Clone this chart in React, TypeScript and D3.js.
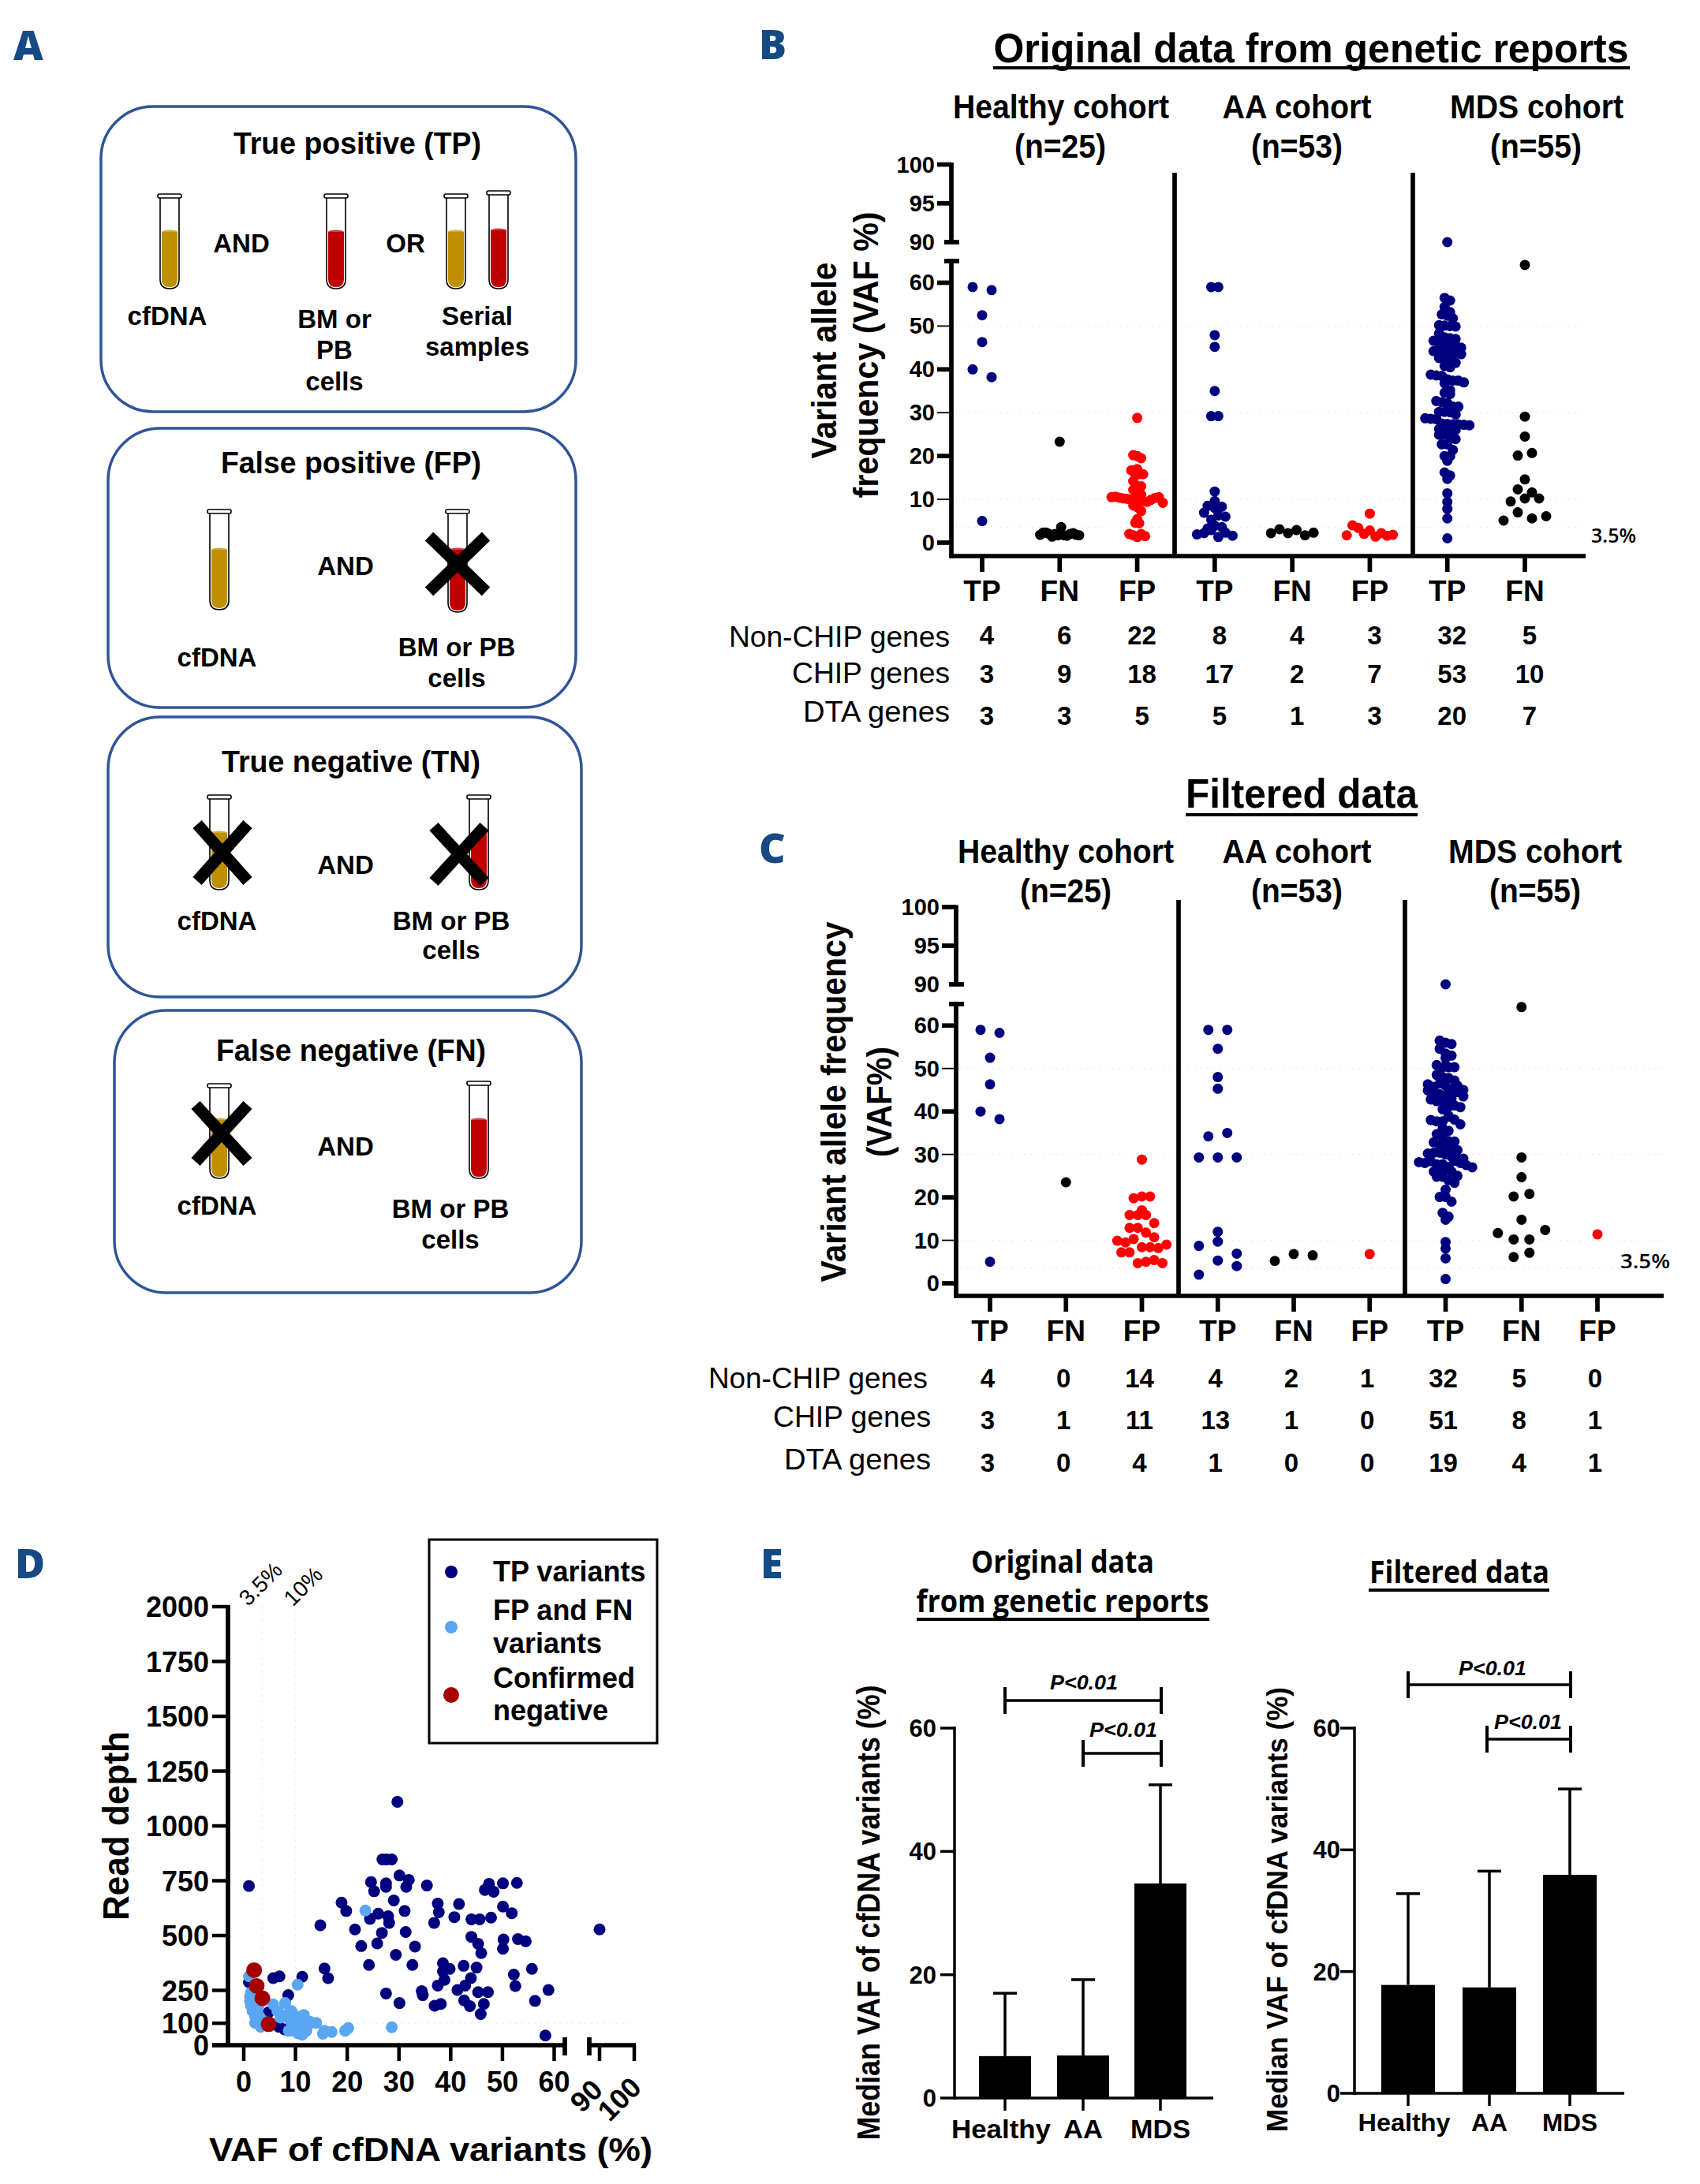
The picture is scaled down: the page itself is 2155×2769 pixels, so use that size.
import * as d3 from "d3";
import React from "react";

const W = 2155;
const H = 2769;
const SANS = '"Liberation Sans", Arial, sans-serif';
const OPEN = '"Open Sans", sans-serif';
const NAVY = "#00007f";
const RED = "#ff0000";
const LETTER = "#164a84";
const BOX = "#2f5597";

/* ---------- panel B values ---------- */
const bHealthyTP = [59, 58.3, 52.5, 46.3, 40, 38.2, 5];
const bHealthyFN = [23.3, 1.8, 2.3, 2.3, 2, 1.4, 2, 1.7, 3.6, 1.7, 1.6, 2, 2.2, 1.8, 1.7];
const bHealthyFP = [28.8, 20.2, 20, 19.5, 17, 16.7, 15.8, 15.8, 15.8, 14.2, 13, 13, 12.2, 11.7, 11.1, 10.5, 10.6, 10.4, 10.2, 10.1, 10, 10, 9.8, 9.6, 9.4, 9.9, 10.3, 10.5, 9.2, 8.6, 8.2, 7.3, 5.4, 4.6, 4.5, 2, 1.7, 1.3, 2, 1.5];
const bAaTP = [59, 59, 47.9, 45.2, 35, 29.2, 29.2, 11.8, 9.6, 8.5, 8, 8.3, 6.9, 5.3, 6.3, 6, 3.3, 3.9, 3.6, 1.9, 2.2, 2.9, 1.3, 2.3, 1.6];
const bAaFN = [2.2, 3.1, 2.2, 2.9, 1.7, 2.3];
const bAaFP = [6.7, 1.7, 4, 3.4, 2, 2.8, 1.4, 2.2, 1.6, 1.8];
const bMdsTP = [90, 56.5, 55.9, 54.4, 53.2, 52.7, 52.4, 51.8, 50.2, 50.1, 50, 49.9, 48.3, 47.4, 47.2, 47, 46.6, 46, 45.8, 45.7, 45.4, 45, 44.2, 44, 44, 43.9, 43.8, 43.5, 42.6, 42.4, 42.3, 41.5, 40.8, 40.5, 38.8, 38.6, 38.5, 37.7, 37.4, 37.4, 37, 36.8, 35.2, 34.6, 34.3, 32.7, 32.4, 32.2, 31.4, 31.4, 30.2, 30.2, 30.1, 29.6, 28.7, 28.6, 28.5, 27.5, 27.4, 27.3, 27.3, 27.2, 27.1, 26.2, 26.1, 26.1, 26, 24.9, 24.9, 24.8, 23.9, 22.7, 22.7, 21.4, 20, 20, 18.9, 16.2, 15.5, 14.7, 11.4, 9.4, 7.8, 5.6, 1];
const bMdsFN = [64.1, 29.1, 24.5, 20.1, 20.7, 14.6, 12.3, 11.6, 9.5, 10.2, 10.2, 5.1, 7, 5.6, 6.1];

/* ---------- panel C values ---------- */
const cHealthyFN = [23.5];
const cHealthyFP = [28.8, 19.8, 20.2, 20.2, 17, 15.9, 15.9, 15.9, 14, 12.9, 12.9, 11.8, 10.7, 9.9, 9.5, 10.3, 8.4, 8.4, 8.2, 9, 7.2, 7.2, 4.7, 5, 5.4, 4.7];
const cAaTP = [59, 59, 54.6, 48, 45.3, 34.2, 35, 29.3, 29.3, 29.3, 12, 8.7, 9.7, 6.9, 2, 5.3, 4];
const cAaFN = [5.2, 6.8, 6.5];
const cAaFP = [6.8];
const cMdsTP = [90, 56.5, 56, 55.7, 54.6, 53.5, 53, 52.4, 50.8, 50.3, 50.3, 50.3, 48.5, 48, 47.8, 47.2, 46.3, 45.7, 46.5, 46, 45.2, 44.9, 44.2, 44, 43.8, 43, 42.8, 42.4, 44.5, 43.5, 42.5, 41.1, 41.4, 41, 46, 45, 40.5, 39, 38, 37.7, 37.7, 38.8, 38.1, 37, 36, 35.5, 34.7, 34, 33.1, 32.8, 33, 32.2, 31.9, 31.2, 31, 30.2, 30.4, 30.4, 30, 29.5, 29, 29, 28.2, 28, 28.4, 27.7, 27.7, 27.1, 28.5, 28, 27.5, 27, 26, 26, 26.5, 26, 24.8, 24.8, 25, 24, 23.4, 21.8, 20.1, 20.1, 19, 16.4, 15.5, 14.8, 9.6, 8.1, 5.8, 1];
const cMdsFN = [64.3, 29.3, 24.7, 20.2, 20.8, 14.8, 11.7, 10.2, 10.2, 12.4, 6.1, 7.1];
const cMdsFP = [11.4];

const bCategories = ["TP", "FN", "FP", "TP", "FN", "FP", "TP", "FN"];
const cCategories = ["TP", "FN", "FP", "TP", "FN", "FP", "TP", "FN", "FP"];
const vafTicksMajor = [0, 20, 40, 60, 90, 95, 100];
const vafTicksMinor = [10, 30, 50];
const refLines = [3.5, 10, 30, 50];

const bNonChip = ["4", "6", "22", "8", "4", "3", "32", "5"];
const bChip = ["3", "9", "18", "17", "2", "7", "53", "10"];
const bDta = ["3", "3", "5", "5", "1", "3", "20", "7"];
const cNonChip = ["4", "0", "14", "4", "2", "1", "32", "5", "0"];
const cChip = ["3", "1", "11", "13", "1", "0", "51", "8", "1"];
const cDta = ["3", "0", "4", "1", "0", "0", "19", "4", "1"];

/* ---------- panel D values: [VAF %, read depth] ---------- */
const dTruePositive = [
  [29.7, 1110], [26.8, 847], [27.6, 847], [28.6, 847], [30.1, 774], [31.9, 754], [24.6, 744], [27.5, 738], [27.5, 722], [31.4, 722],
  [35.4, 728], [25.2, 702], [1, 726], [47.4, 736], [46.6, 708], [48.3, 700], [50.1, 738], [52.8, 740], [29, 660], [18.9, 650],
  [19.8, 612], [37.5, 646], [37.7, 606], [41.6, 644], [50.1, 632], [51.8, 602], [31.1, 612], [26, 600], [27.9, 588], [24.4, 576],
  [28.1, 558], [14.8, 547], [21.5, 528], [26.7, 512], [31.3, 516], [36.8, 558], [40.7, 584], [44, 574], [45.6, 574], [47.8, 582],
  [44, 494], [45.3, 462], [45.9, 420], [50.2, 482], [50.1, 440], [53, 484], [54.5, 474], [90, 528], [22.7, 452], [25.8, 464],
  [33.1, 450], [29.4, 412], [24.2, 366], [32.6, 366], [38.5, 374], [39.8, 348], [38.5, 336], [42.5, 362], [45, 354], [55.7, 348],
  [15.6, 350], [16.3, 306], [11.3, 312], [5.7, 306], [6.9, 314], [38.8, 298], [43.9, 306], [52.2, 322], [52.5, 270], [42.8, 272],
  [37.5, 272], [41.3, 252], [58.9, 252], [34.4, 246], [34.6, 228], [27.5, 236], [45.3, 242], [47.2, 242], [8.6, 228], [30.1, 192],
  [36.9, 180], [38.1, 188], [42.6, 204], [43.7, 178], [46.4, 188], [56.3, 202], [45.8, 142], [58.3, 44], [4.8, 150], [6.8, 84],
  [7.9, 72], [1, 288],
];
const dFalseCalls = [
  [23.5, 614], [28.6, 82], [10.4, 276], [1, 314], [20.2, 78], [19.6, 66], [17, 60], [15.6, 66], [15.3, 52],
  [1.4, 240], [1.2, 204], [1.4, 180], [1.7, 156], [2.2, 132], [2, 180], [2.5, 156], [3, 132], [2.2, 102], [3.3, 84], [1.2, 222],
  [1.4, 198], [2, 204], [2.8, 174], [3.6, 114], [5.7, 186], [8, 192], [6.5, 156], [7.1, 126], [9.2, 156], [9.7, 138],
  [11.6, 138], [8.1, 138], [8.9, 114], [10.3, 102], [14, 102], [12.9, 102], [11.9, 96], [11.1, 78], [8.7, 66], [9.7, 66],
  [10.5, 54], [11.3, 48], [12.1, 66], [10.8, 96], [12.7, 108], [9.5, 102],
];
const dConfirmedNegative = [[2, 342], [2.5, 270], [3.6, 214], [4.8, 96]];
const dDepthTicks = [0, 100, 250, 500, 750, 1000, 1250, 1500, 1750, 2000];
const dVafTicks = [0, 10, 20, 30, 40, 50, 60];

/* ---------- panel E values ---------- */
const eGroups = ["Healthy", "AA", "MDS"];
const eOriginalMedian = [6.8, 6.9, 34.8];
const eOriginalUpper = [17, 19.2, 50.8];
const eFilteredMedian = [17.8, 17.4, 35.9];
const eFilteredUpper = [32.8, 36.5, 50];
const eTicks = [0, 20, 40, 60];

/* ---------- helpers ---------- */
type TxtProps = {
  x: number; y: number; s: number; w?: number; b?: number; a?: string; f?: string; rot?: number; it?: boolean; fill?: string; children: React.ReactNode;
};
const Txt = ({ x, y, s, w, b = 700, a = "middle", f = SANS, rot, it, fill = "#000", children }: TxtProps) => (
  <text
    x={x}
    y={y}
    fontSize={s}
    fontWeight={b}
    fontFamily={f}
    fontStyle={it ? "italic" : "normal"}
    textAnchor={a as any}
    fill={fill}
    textLength={w}
    lengthAdjust={w ? "spacingAndGlyphs" : undefined}
    transform={rot !== undefined ? `rotate(${rot} ${x} ${y})` : undefined}
  >
    {children}
  </text>
);

const Line = ({ x1, y1, x2, y2, sw = 5.7, c = "#000", dash }: any) => (
  <line x1={x1} y1={y1} x2={x2} y2={y2} stroke={c} strokeWidth={sw} strokeDasharray={dash} />
);

// bins values and lays each bin out symmetrically, keeping the array order left to right
function swarm(values: number[], bin: number, step: number) {
  const out: { v: number; off: number }[] = [];
  d3.group(values, (v) => Math.round(v / bin)).forEach((g) => {
    g.forEach((v, i) => out.push({ v, off: (i - (g.length - 1) / 2) * step }));
  });
  return out;
}

const Tube = ({ cx, top, bottom, fillTop, color }: any) => {
  const hw = 12;
  const body = `M${cx - hw},${top + 4} L${cx - hw},${bottom - 12} Q${cx - hw},${bottom} ${cx},${bottom} Q${cx + hw},${bottom} ${cx + hw},${bottom - 12} L${cx + hw},${top + 4}`;
  const liq = `M${cx - 10},${fillTop} L${cx - 10},${bottom - 12} Q${cx - 10},${bottom - 2} ${cx},${bottom - 2} Q${cx + 10},${bottom - 2} ${cx + 10},${bottom - 12} L${cx + 10},${fillTop} Z`;
  return (
    <g>
      <path d={body} fill="#fff" stroke="#000" strokeWidth={1.6} />
      <path d={liq} fill={color} />
      <ellipse cx={cx} cy={fillTop} rx={10} ry={2.5} fill={color} opacity={0.75} />
      <rect x={cx - 15} y={top} width={30} height={5} rx={2} fill="#fff" stroke="#000" strokeWidth={1.6} />
    </g>
  );
};

const Cross = ({ cx, cy, hx, hy }: any) => (
  <g>
    <Line x1={cx - hx} y1={cy - hy} x2={cx + hx} y2={cy + hy} sw={15} />
    <Line x1={cx - hx} y1={cy + hy} x2={cx + hx} y2={cy - hy} sw={15} />
  </g>
);

const GOLD = "#bf9000";
const BLOOD = "#c00000";
const HEAD = 38;

const PanelA = () => (
  <g>
    <Txt x={17} y={76} s={52} b={800} a="start" f={OPEN} fill={LETTER}>A</Txt>
    <rect x={128} y={135} width={602} height={387} rx={66} fill="#fff" stroke={BOX} strokeWidth={3.5} />
    <rect x={137} y={543} width={593} height={354} rx={66} fill="#fff" stroke={BOX} strokeWidth={3.5} />
    <rect x={137} y={909} width={600} height={355} rx={66} fill="#fff" stroke={BOX} strokeWidth={3.5} />
    <rect x={145} y={1281} width={592} height={358} rx={66} fill="#fff" stroke={BOX} strokeWidth={3.5} />

    <Txt x={453} y={195} s={HEAD} w={314}>True positive (TP)</Txt>
    <Tube cx={215} top={246} bottom={366} fillTop={294} color={GOLD} />
    <Txt x={306} y={320} s={33}>AND</Txt>
    <Tube cx={426} top={246} bottom={366} fillTop={294} color={BLOOD} />
    <Txt x={514} y={320} s={33}>OR</Txt>
    <Tube cx={578} top={246} bottom={366} fillTop={294} color={GOLD} />
    <Tube cx={632} top={242} bottom={366} fillTop={292} color={BLOOD} />
    <Txt x={212} y={412} s={33}>cfDNA</Txt>
    <Txt x={424} y={416} s={33}>BM or</Txt>
    <Txt x={424} y={455} s={33}>PB</Txt>
    <Txt x={424} y={495} s={33}>cells</Txt>
    <Txt x={605} y={412} s={33}>Serial</Txt>
    <Txt x={605} y={451} s={33}>samples</Txt>

    <Txt x={445} y={600} s={HEAD} w={330}>False positive (FP)</Txt>
    <Tube cx={278} top={646} bottom={773} fillTop={697} color={GOLD} />
    <Txt x={438} y={729} s={33}>AND</Txt>
    <Tube cx={580} top={646} bottom={776} fillTop={697} color={BLOOD} />
    <Cross cx={580} cy={715} hx={36} hy={35} />
    <Txt x={275} y={845} s={33}>cfDNA</Txt>
    <Txt x={579} y={832} s={33}>BM or PB</Txt>
    <Txt x={579} y={871} s={33}>cells</Txt>

    <Txt x={445} y={979} s={HEAD} w={328}>True negative (TN)</Txt>
    <Tube cx={278} top={1008} bottom={1128} fillTop={1056} color={GOLD} />
    <Cross cx={282} cy={1081} hx={32} hy={36} />
    <Txt x={438} y={1108} s={33}>AND</Txt>
    <Tube cx={607} top={1008} bottom={1128} fillTop={1056} color={BLOOD} />
    <Cross cx={582} cy={1083} hx={32} hy={35} />
    <Txt x={275} y={1179} s={33}>cfDNA</Txt>
    <Txt x={572} y={1179} s={33}>BM or PB</Txt>
    <Txt x={572} y={1216} s={33}>cells</Txt>

    <Txt x={445} y={1345} s={HEAD} w={342}>False negative (FN)</Txt>
    <Tube cx={278} top={1374} bottom={1494} fillTop={1420} color={GOLD} />
    <Cross cx={281} cy={1437} hx={33} hy={36} />
    <Txt x={438} y={1465} s={33}>AND</Txt>
    <Tube cx={607} top={1371} bottom={1494} fillTop={1420} color={BLOOD} />
    <Txt x={275} y={1540} s={33}>cfDNA</Txt>
    <Txt x={571} y={1544} s={33}>BM or PB</Txt>
    <Txt x={571} y={1583} s={33}>cells</Txt>
  </g>
);

const SwarmPanel = ({ cats, layers, xRange, yRange, axisX, axisY, axisEnd, dividers, dividerTop, rows, rowY, rowLabels, tableDx, catY, r }: any) => {
  const x = d3.scalePoint<number>().domain(d3.range(cats.length)).range(xRange);
  const y = d3.scaleLinear().domain([0, 65, 90, 100]).range(yRange);
  return (
    <g>
      {refLines.map((v) => (
        <Line key={v} x1={axisX + 6} y1={y(v)} x2={axisEnd} y2={y(v)} sw={1.5} c="#eeeeee" dash="2 6" />
      ))}
      {dividers.map((d: number) => (
        <Line key={d} x1={d} y1={dividerTop} x2={d} y2={axisY} />
      ))}
      {vafTicksMajor.map((t) => (
        <g key={t}>
          <Line x1={t === 90 ? axisX - 9 : axisX - 18} y1={y(t)} x2={t === 90 ? axisX + 10 : axisX} y2={y(t)} />
          <Txt x={axisX - 21} y={y(t) + 10} s={29} a="end">{t}</Txt>
        </g>
      ))}
      {vafTicksMinor.map((t) => (
        <g key={t}>
          <Line x1={axisX - 18} y1={y(t)} x2={axisX} y2={y(t)} sw={1.8} />
          <Txt x={axisX - 21} y={y(t) + 10} s={29} a="end">{t}</Txt>
        </g>
      ))}
      <Line x1={axisX} y1={y(100) - 2.5} x2={axisX} y2={y(90)} />
      <Line x1={axisX} y1={y(65) - 2.5} x2={axisX} y2={axisY + 2.5} />
      <Line x1={axisX - 9} y1={y(65)} x2={axisX + 10} y2={y(65)} />
      <Line x1={axisX - 2.5} y1={axisY} x2={axisEnd} y2={axisY} />
      {cats.map((c: string, i: number) => (
        <g key={i}>
          <Line x1={x(i)} y1={axisY} x2={x(i)} y2={axisY + 20} />
          <Txt x={x(i)!} y={catY} s={37}>{c}</Txt>
        </g>
      ))}
      {layers.map((l: any, i: number) =>
        swarm(l.values, l.bin, l.step).map((d, j) => (
          <circle key={`${i}-${j}`} cx={x(l.col)! + d.off} cy={y(d.v)} r={r} fill={l.color} />
        ))
      )}
      {rows.map((row: string[], ri: number) => (
        <g key={ri}>
          {row.map((n, i) => (
            <Txt key={i} x={x(i)! + tableDx} y={rowY[ri]} s={33}>{n}</Txt>
          ))}
          <Txt x={rowLabels[ri].x} y={rowLabels[ri].y} s={37} b={400} a="end" w={rowLabels[ri].w}>{rowLabels[ri].t}</Txt>
        </g>
      ))}
    </g>
  );
};

const bLayers = [
  { col: 0, values: bHealthyTP, color: NAVY, bin: 4, step: 24 },
  { col: 1, values: bHealthyFN, color: "#000", bin: 10, step: 3.8 },
  { col: 2, values: bHealthyFP, color: RED, bin: 2, step: 5 },
  { col: 3, values: bAaTP, color: NAVY, bin: 2, step: 9 },
  { col: 4, values: bAaFN, color: "#000", bin: 10, step: 10.8 },
  { col: 5, values: bAaFP, color: RED, bin: 10, step: 7.3 },
  { col: 6, values: bMdsTP, color: NAVY, bin: 2, step: 7 },
  { col: 7, values: bMdsFN, color: "#000", bin: 3, step: 18 },
];
const cLayers = [
  { col: 0, values: bHealthyTP, color: NAVY, bin: 4, step: 24 },
  { col: 1, values: cHealthyFN, color: "#000", bin: 4, step: 10 },
  { col: 2, values: cHealthyFP, color: RED, bin: 3, step: 10.4 },
  { col: 3, values: cAaTP, color: NAVY, bin: 4, step: 24 },
  { col: 4, values: cAaFN, color: "#000", bin: 5, step: 24 },
  { col: 5, values: cAaFP, color: RED, bin: 5, step: 10 },
  { col: 6, values: cMdsTP, color: NAVY, bin: 2, step: 7.5 },
  { col: 7, values: cMdsFN, color: "#000", bin: 5, step: 20 },
  { col: 8, values: cMdsFP, color: RED, bin: 5, step: 10 },
];

const PanelB = () => (
  <g>
    <Txt x={962} y={75} s={52} b={800} a="start" f={OPEN} fill={LETTER}>B</Txt>
    <Txt x={1662} y={79} s={52} w={805}>Original data from genetic reports</Txt>
    <Line x1={1259} y1={86} x2={2066} y2={86} sw={4} />
    <Txt x={1345} y={150} s={43} w={274}>Healthy cohort</Txt>
    <Txt x={1344} y={200} s={43} w={116}>(n=25)</Txt>
    <Txt x={1644} y={150} s={43} w={189}>AA cohort</Txt>
    <Txt x={1644} y={200} s={43} w={116}>(n=53)</Txt>
    <Txt x={1948} y={150} s={43} w={220}>MDS cohort</Txt>
    <Txt x={1947} y={200} s={43} w={116}>(n=55)</Txt>
    <Txt x={1060} y={457} s={44} rot={-90} w={249}>Variant allele</Txt>
    <Txt x={1113} y={450} s={44} rot={-90} w={363}>frequency (VAF %)</Txt>
    <SwarmPanel
      cats={bCategories}
      layers={bLayers}
      xRange={[1245, 1933]}
      yRange={[688, 331, 307, 208.6]}
      axisX={1206}
      axisY={705}
      axisEnd={2010}
      dividers={[1489, 1791]}
      dividerTop={219}
      rows={[bNonChip, bChip, bDta]}
      rowY={[817, 866, 919]}
      rowLabels={[
        { t: "Non-CHIP genes", x: 1204, y: 820, w: 280 },
        { t: "CHIP genes", x: 1204, y: 866, w: 200 },
        { t: "DTA genes", x: 1204, y: 915, w: 186 },
      ]}
      tableDx={6}
      catY={762}
      r={6.5}
    />
    <Txt x={2017} y={688} s={25} a="start" b={600} f={OPEN} w={57}>3.5%</Txt>
  </g>
);

const PanelC = () => (
  <g>
    <Txt x={962} y={1094} s={52} b={800} a="start" f={OPEN} fill={LETTER}>C</Txt>
    <Txt x={1650} y={1024} s={52} w={294}>Filtered data</Txt>
    <Line x1={1503} y1={1033} x2={1797} y2={1033} sw={4} />
    <Txt x={1351} y={1094} s={43} w={274}>Healthy cohort</Txt>
    <Txt x={1351} y={1144} s={43} w={116}>(n=25)</Txt>
    <Txt x={1644} y={1094} s={43} w={189}>AA cohort</Txt>
    <Txt x={1644} y={1144} s={43} w={116}>(n=53)</Txt>
    <Txt x={1946} y={1094} s={43} w={220}>MDS cohort</Txt>
    <Txt x={1946} y={1144} s={43} w={116}>(n=55)</Txt>
    <Txt x={1072} y={1397} s={44} rot={-90} w={457}>Variant allele frequency</Txt>
    <Txt x={1130} y={1397} s={44} rot={-90} w={140}>(VAF%)</Txt>
    <SwarmPanel
      cats={cCategories}
      layers={cLayers}
      xRange={[1255, 2025]}
      yRange={[1627, 1273, 1248, 1150]}
      axisX={1212}
      axisY={1643}
      axisEnd={2109}
      dividers={[1494, 1781]}
      dividerTop={1141}
      rows={[cNonChip, cChip, cDta]}
      rowY={[1759, 1812, 1866]}
      rowLabels={[
        { t: "Non-CHIP genes", x: 1176, y: 1760, w: 278 },
        { t: "CHIP genes", x: 1180, y: 1809, w: 200 },
        { t: "DTA genes", x: 1180, y: 1863, w: 186 },
      ]}
      tableDx={-3}
      catY={1700}
      r={6.5}
    />
    <Txt x={2054} y={1608} s={25} a="start" b={600} f={OPEN} w={63}>3.5%</Txt>
  </g>
);

const PanelD = () => {
  const x = d3.scaleLinear().domain([0, 60, 90, 100]).range([309, 702.5, 760, 804]);
  const y = d3.scaleLinear().domain([0, 2000]).range([2593, 2037]);
  const series = [
    { pts: dTruePositive, c: NAVY, r: 7.5 },
    { pts: dFalseCalls, c: "#5aa6f2", r: 7.5 },
    { pts: dConfirmedNegative, c: "#a50000", r: 10 },
  ];
  return (
    <g>
      <Txt x={19} y={2001} s={52} b={800} a="start" f={OPEN} fill={LETTER}>D</Txt>
      <Line x1={x(3.5)} y1={y(2000)} x2={x(3.5)} y2={y(100)} sw={1.5} c="#eeeeee" dash="2 6" />
      <Line x1={x(10)} y1={y(2000)} x2={x(10)} y2={y(100)} sw={1.5} c="#eeeeee" dash="2 6" />
      <Line x1={x(0)} y1={y(100)} x2={x(100)} y2={y(100)} sw={1.5} c="#eeeeee" dash="2 6" />
      {dDepthTicks.map((t) => (
        <g key={t}>
          <Line x1={269} y1={y(t)} x2={289} y2={y(t)} sw={4.5} />
          <Txt x={265} y={y(t) + 13} s={36} a="end">{t}</Txt>
        </g>
      ))}
      <Line x1={289} y1={y(2000) - 2} x2={289} y2={y(0) + 2} />
      <Line x1={269} y1={y(0)} x2={716} y2={y(0)} />
      <Line x1={747} y1={y(0)} x2={806} y2={y(0)} />
      <Line x1={716} y1={y(0) - 10} x2={716} y2={y(0) + 13} />
      <Line x1={747} y1={y(0) - 10} x2={747} y2={y(0) + 13} />
      {dVafTicks.map((t) => (
        <g key={t}>
          <Line x1={x(t)} y1={y(0)} x2={x(t)} y2={y(0) + 20} sw={4.5} />
          <Txt x={x(t)} y={2652} s={36}>{t}</Txt>
        </g>
      ))}
      <Line x1={x(90)} y1={y(0)} x2={x(90)} y2={y(0) + 20} sw={4.5} />
      <Line x1={x(100)} y1={y(0)} x2={x(100)} y2={y(0) + 20} sw={4.5} />
      <Txt x={752} y={2666} s={36} rot={-45}>90</Txt>
      <Txt x={794} y={2670} s={36} rot={-45}>100</Txt>
      <Txt x={163} y={2315} s={46} rot={-90} w={240}>Read depth</Txt>
      <Txt x={546} y={2740} s={42} w={562}>VAF of cfDNA variants (%)</Txt>
      <Txt x={337} y={2015} s={28} b={500} rot={-45}>3.5%</Txt>
      <Txt x={391} y={2018} s={28} b={500} rot={-45}>10%</Txt>
      {series.map((s, i) =>
        s.pts.map((p, j) => <circle key={`${i}-${j}`} cx={x(p[0])} cy={y(p[1])} r={s.r} fill={s.c} />)
      )}
      <rect x={544} y={1952} width={289} height={258} fill="#fff" stroke="#000" strokeWidth={3} />
      <circle cx={572} cy={1993} r={8} fill={NAVY} />
      <circle cx={572} cy={2063} r={8} fill="#5aa6f2" />
      <circle cx={572} cy={2149} r={10} fill="#a50000" />
      <Txt x={625} y={2005} s={36} a="start">TP variants</Txt>
      <Txt x={625} y={2054} s={36} a="start">FP and FN</Txt>
      <Txt x={625} y={2096} s={36} a="start">variants</Txt>
      <Txt x={625} y={2140} s={36} a="start">Confirmed</Txt>
      <Txt x={625} y={2181} s={36} a="start">negative</Txt>
    </g>
  );
};

const Bracket = ({ x1, x2, y, h, tx, ty }: any) => (
  <g>
    <Line x1={x1} y1={y} x2={x2} y2={y} sw={3.5} />
    <Line x1={x1} y1={y - h} x2={x1} y2={y + h} sw={4} />
    <Line x1={x2} y1={y - h} x2={x2} y2={y + h} sw={4} />
    <Txt x={tx} y={ty} s={25} it w={86}>P&lt;0.01</Txt>
  </g>
);

const BarChart = ({ medians, uppers, centers, barW, axisX, axisEnd, y0, y60, labelY, labelS, labelW, tickRight, titleX, titleY, titleW, titleS }: any) => {
  const y = d3.scaleLinear().domain([0, 60]).range([y0, y60]);
  return (
    <g>
      {eTicks.map((t) => (
        <g key={t}>
          <Line x1={axisX - 18} y1={y(t)} x2={axisX} y2={y(t)} sw={3.5} />
          <Txt x={tickRight} y={y(t) + 11} s={31} a="end">{t}</Txt>
        </g>
      ))}
      <Line x1={axisX} y1={y60 - 2} x2={axisX} y2={y0 + 2} sw={3.5} />
      <Line x1={axisX} y1={y0} x2={axisEnd} y2={y0} sw={3.5} />
      {eGroups.map((g, i) => (
        <g key={g}>
          <Line x1={centers[i]} y1={y(medians[i])} x2={centers[i]} y2={y(uppers[i])} sw={3.5} />
          <Line x1={centers[i] - 15} y1={y(uppers[i])} x2={centers[i] + 15} y2={y(uppers[i])} sw={3.5} />
          <rect x={centers[i] - barW / 2} y={y(medians[i])} width={barW} height={y0 - y(medians[i])} fill="#000" />
          <Line x1={centers[i]} y1={y0} x2={centers[i]} y2={y0 + 16} sw={3.5} />
          <Txt x={centers[i] - (i === 0 ? 5 : 0)} y={labelY} s={labelS} w={labelW[i]}>{g}</Txt>
        </g>
      ))}
      <Txt x={titleX} y={titleY} s={titleS} rot={-90} w={titleW}>Median VAF of cfDNA variants (%)</Txt>
    </g>
  );
};

const PanelE = () => (
  <g>
    <Txt x={964} y={2001} s={52} b={800} a="start" f={OPEN} fill={LETTER}>E</Txt>
    <Txt x={1347} y={1994} s={40} f={OPEN} b={700} w={232}>Original data</Txt>
    <Txt x={1347} y={2044} s={40} f={OPEN} b={700} w={371}>from genetic reports</Txt>
    <Line x1={1162} y1={2053} x2={1533} y2={2053} sw={4} />
    <Txt x={1850} y={2007} s={40} f={OPEN} b={700} w={228}>Filtered data</Txt>
    <Line x1={1735} y1={2016} x2={1964} y2={2016} sw={4} />
    <BarChart
      medians={eOriginalMedian}
      uppers={eOriginalUpper}
      centers={[1274, 1373, 1471]}
      barW={66}
      axisX={1210}
      axisEnd={1538}
      y0={2660}
      y60={2191}
      labelY={2711}
      labelS={34}
      labelW={[126, 50, 76]}
      tickRight={1187}
      titleX={1115}
      titleY={2425}
      titleW={577}
      titleS={40}
    />
    <Bracket x1={1274} x2={1472} y={2156} h={17} tx={1374} ty={2142} />
    <Bracket x1={1373} x2={1472} y={2223} h={17} tx={1424} ty={2202} />
    <BarChart
      medians={eFilteredMedian}
      uppers={eFilteredUpper}
      centers={[1785, 1888, 1990]}
      barW={68}
      axisX={1717}
      axisEnd={2059}
      y0={2654}
      y60={2191}
      labelY={2702}
      labelS={32}
      labelW={[117, 46, 70]}
      tickRight={1699}
      titleX={1632}
      titleY={2421}
      titleW={564}
      titleS={37}
    />
    <Bracket x1={1785} x2={1991} y={2136} h={17} tx={1892} ty={2124} />
    <Bracket x1={1885} x2={1991} y={2205} h={17} tx={1937} ty={2192} />
  </g>
);

export default function App() {
  return (
    <svg
      width={W}
      height={H}
      viewBox={`0 0 ${W} ${H}`}
      style={{ position: "absolute", left: 0, top: 0, background: "#fff" }}
    >
      <PanelA />
      <PanelB />
      <PanelC />
      <PanelD />
      <PanelE />
    </svg>
  );
}
